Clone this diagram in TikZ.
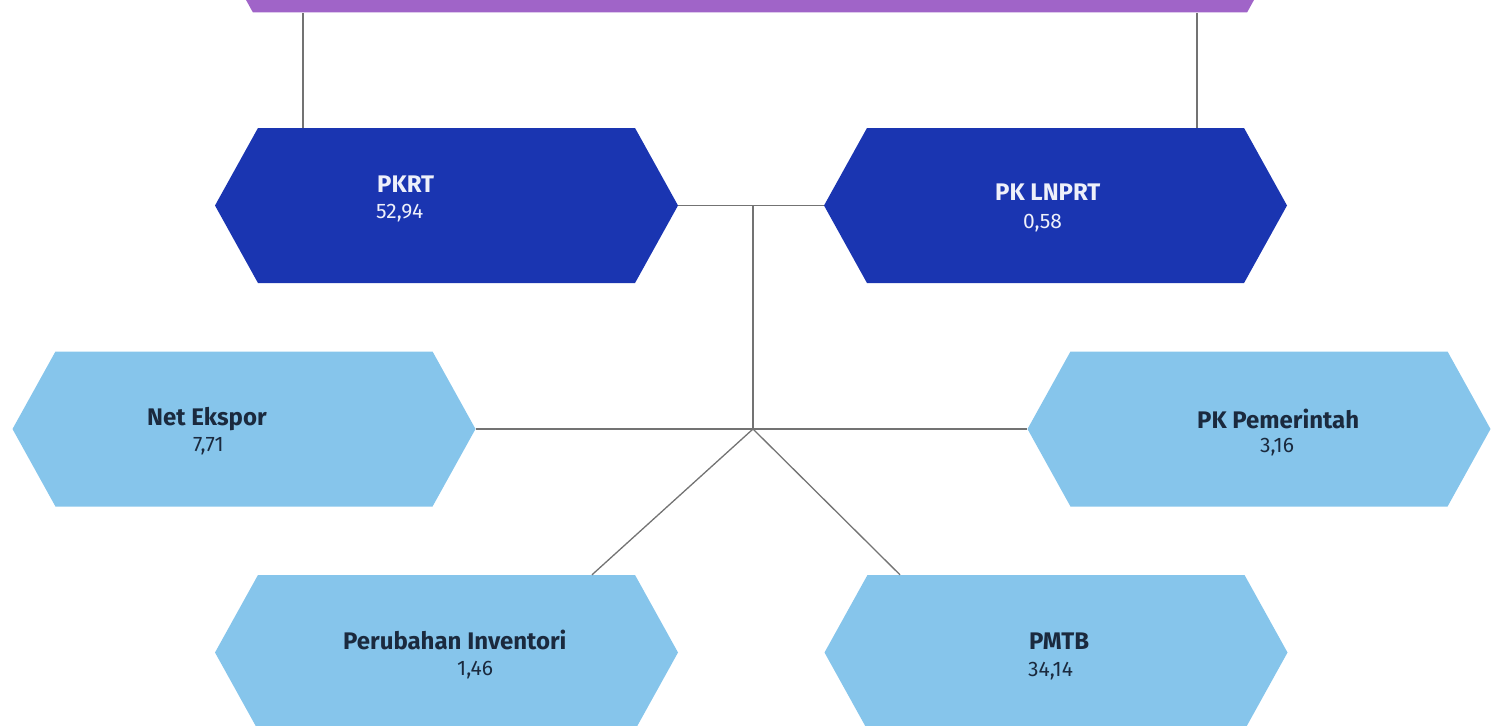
\documentclass[tikz,border=0pt]{standalone}
\usepackage{fontspec}
\setmainfont{Fira Sans}
\usetikzlibrary{shapes.symbols}
\definecolor{ungu}{HTML}{A064C8}
\definecolor{biru}{HTML}{1A35B1}
\definecolor{birumuda}{HTML}{86C5EB}
\definecolor{tinta}{HTML}{1B2A3E}
\definecolor{putih}{HTML}{EEF0FA}
\tikzset{
  hexa/.style={signal, signal to=west and east, signal pointer angle=122,
    minimum width=463pt, minimum height=155pt, inner sep=0pt},
  garis/.style={draw=black!55, line width=1.3pt},
  judul/.style={font=\fontsize{24}{28}\selectfont\bfseries, anchor=base west, inner sep=0pt},
  nilai/.style={font=\fontsize{21}{25}\selectfont, anchor=base west, inner sep=0pt}
}
\begin{document}
\begin{tikzpicture}[x=1pt,y=-1pt]
\useasboundingbox (0,0) rectangle (1498,725);
\clip (0,0) rectangle (1498,725);
\node[hexa, fill=ungu, minimum width=1080pt] (atas) at (750,-65) {};
\node[hexa, fill=biru] (pkrt) at (446.5,205.5) {};
\node[hexa, fill=biru] (lnprt) at (1055.5,205.5) {};
\node[hexa, fill=birumuda] (ekspor) at (244,429) {};
\node[hexa, fill=birumuda] (pemerintah) at (1259,429) {};
\node[hexa, fill=birumuda] (inventori) at (446.5,652.5) {};
\node[hexa, fill=birumuda] (pmtb) at (1056,652.5) {};
\coordinate (pusat) at (753,429);
\draw[garis] ([xshift=-143.5pt]pkrt.north) -- ([xshift=-143.5pt]pkrt.north |- atas.south);
\draw[garis] ([xshift=141.5pt]lnprt.north) -- ([xshift=141.5pt]lnprt.north |- atas.south);
\draw[garis] (pkrt.east) -- (lnprt.west);
\draw[garis] (pkrt.east -| pusat) -- (pusat);
\draw[garis] (ekspor.east) -- (pemerintah.west);
\draw[garis] (pusat) -- ([xshift=145.5pt]inventori.north);
\draw[garis] (pusat) -- ([xshift=-156pt]pmtb.north);
\node[judul, text=putih] (pkrt-j) at (377,192) {PKRT};
\node[nilai, text=putih] (pkrt-n) at (376,218) {52,94};
\node[judul, text=putih] (lnprt-j) at (995,200) {PK LNPRT};
\node[nilai, text=putih] (lnprt-n) at (1023,228) {0,58};
\node[judul, text=tinta] (ekspor-j) at (147,425) {Net Ekspor};
\node[nilai, text=tinta] (ekspor-n) at (193,451) {7,71};
\node[judul, text=tinta] (pemerintah-j) at (1197,428) {PK Pemerintah};
\node[nilai, text=tinta] (pemerintah-n) at (1260,452) {3,16};
\node[judul, text=tinta] (inventori-j) at (343,649) {Perubahan Inventori};
\node[nilai, text=tinta] (inventori-n) at (457,675) {1,46};
\node[judul, text=tinta] (pmtb-j) at (1029,649) {PMTB};
\node[nilai, text=tinta] (pmtb-n) at (1028,676) {34,14};
\end{tikzpicture}
\end{document}
